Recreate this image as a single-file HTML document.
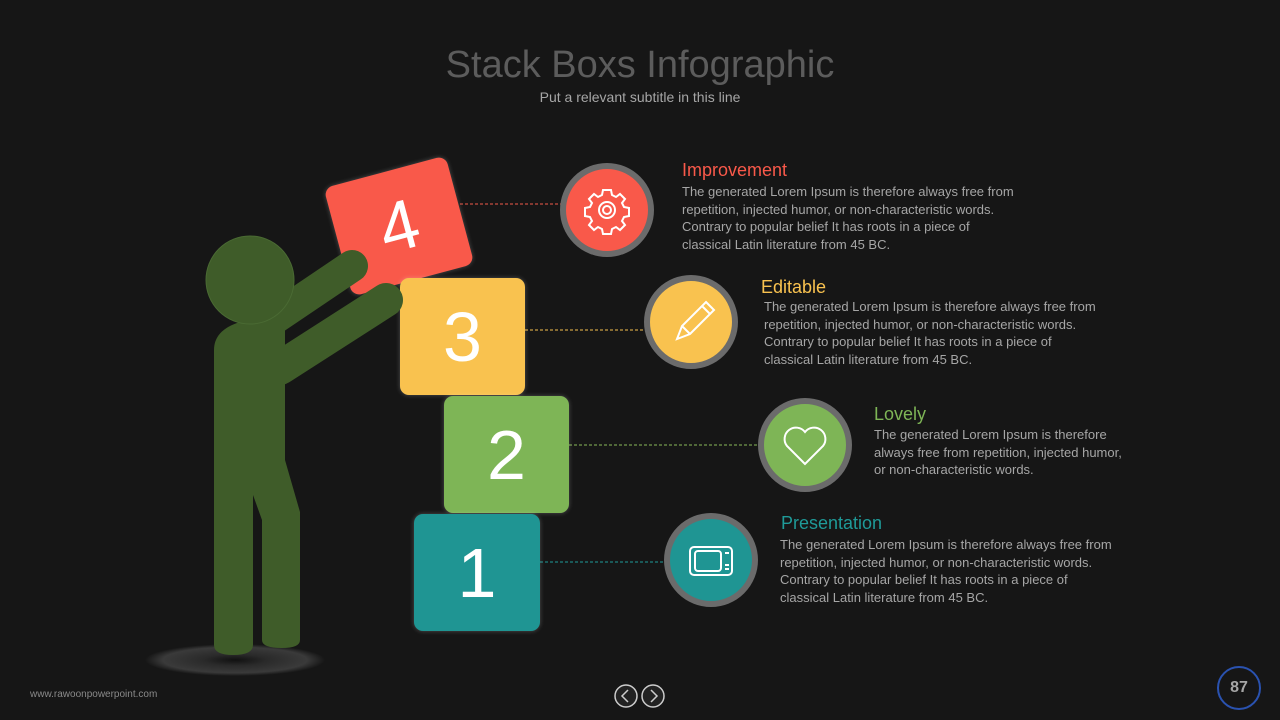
<!DOCTYPE html>
<html><head><style>
body{margin:0;width:1280px;height:720px;background:#161616;overflow:hidden;position:relative;font-family:"Liberation Sans",sans-serif}
.t{position:absolute;color:#a6a6a6;font-size:13px;line-height:17.5px;white-space:nowrap}
.h{position:absolute;font-size:18px}
.box{position:absolute;border-radius:9px;color:#fff;font-size:70px;display:flex;align-items:center;justify-content:center;box-shadow:0 0 5px rgba(255,255,255,.25)}
</style></head><body>
<div style="position:absolute;top:44px;width:1280px;text-align:center;color:#5c5c5c;font-size:38px">Stack Boxs Infographic</div>
<div style="position:absolute;top:89px;width:1280px;text-align:center;color:#a6a6a6;font-size:14px">Put a relevant subtitle in this line</div>

<svg width="1280" height="720" style="position:absolute;left:0;top:0">
<defs><radialGradient id="sh"><stop offset="0" stop-color="#111"/><stop offset=".35" stop-color="#2a2a2a"/><stop offset=".8" stop-color="#3a3a3a"/><stop offset="1" stop-color="#161616"/></radialGradient></defs>
<ellipse cx="235" cy="660" rx="90" ry="16" fill="url(#sh)"/>
<g stroke-dasharray="3,2" stroke-width="1">
<line x1="460" y1="204" x2="565" y2="204" stroke="#f25a4a"/>
<line x1="525" y1="330" x2="650" y2="330" stroke="#f6c04f"/>
<line x1="569" y1="445" x2="765" y2="445" stroke="#8bb95a"/>
<line x1="540" y1="562" x2="668" y2="562" stroke="#1f9a98"/>
</g>
</svg>
<div class="box" style="left:336px;top:170px;width:126px;height:112px;background:#f9594a;transform:rotate(-15deg)">4</div>
<div class="box" style="left:400px;top:278px;width:125px;height:117px;background:#f9c24f">3</div>
<svg width="1280" height="720" style="position:absolute;left:0;top:0">
<g fill="#3f5c29" stroke="#3f5c29" stroke-linecap="round">
<line x1="272" y1="320" x2="352" y2="266" stroke-width="32"/>
<line x1="280" y1="368" x2="386" y2="300" stroke-width="34"/>
<path d="M214 350 Q214 330 240 322 L285 322 L285 460 L300 512 L300 640 Q300 648 282 648 Q262 648 262 640 L262 520 L253 495 L253 645 Q253 655 233 655 Q214 655 214 645 Z" stroke="none"/>
<circle cx="250" cy="280" r="44" stroke="#4a6a33" stroke-width="1"/>
</g>
</svg>
<div class="box" style="left:444px;top:396px;width:125px;height:117px;background:#7eb556">2</div>
<div class="box" style="left:414px;top:514px;width:126px;height:117px;background:#1f9593">1</div>

<svg width="1280" height="720" style="position:absolute;left:0;top:0" fill="none" stroke="#fff" stroke-width="2">
<circle cx="607" cy="210" r="44" fill="#f9594a" stroke="#6b6b6b" stroke-width="6"/>
<circle cx="607" cy="210" r="8"/><circle cx="607" cy="210" r="4"/>
<path d="M603 190h8l1 5 4 2 4-3 5 5-3 4 2 4 5 1v8l-5 1-2 4 3 4-5 5-4-3-4 2-1 5h-8l-1-5-4-2-4 3-5-5 3-4-2-4-5-1v-8l5-1 2-4-3-4 5-5 4 3 4-2z"/>
<circle cx="691" cy="322" r="44" fill="#f9c24f" stroke="#6b6b6b" stroke-width="6"/>
<path d="M706 302l8 8-24 24-13 5 5-13z M702 306l8 8 M682 326l8 8"/>
<circle cx="805" cy="445" r="44" fill="#7eb556" stroke="#6b6b6b" stroke-width="6"/>
<path d="M805 464l-18-18a11 11 0 0 1 18-14a11 11 0 0 1 18 14z"/>
<circle cx="711" cy="560" r="44" fill="#1f9593" stroke="#6b6b6b" stroke-width="6"/>
<rect x="690" y="547" width="42" height="28" rx="4"/><rect x="695" y="551" width="26" height="20" rx="3"/>
<path d="M725 553h4 M725 565h4 M725 569h4"/>
</svg>

<div class="h" style="left:682px;top:160px;color:#f9594a">Improvement</div>
<div class="t" style="left:682px;top:183px">The generated Lorem Ipsum is therefore always free from<br>repetition, injected humor, or non-characteristic words.<br>Contrary to popular belief It has roots in a piece of<br>classical Latin literature from 45 BC.</div>
<div class="h" style="left:761px;top:277px;color:#f9c24f">Editable</div>
<div class="t" style="left:764px;top:298px">The generated Lorem Ipsum is therefore always free from<br>repetition, injected humor, or non-characteristic words.<br>Contrary to popular belief It has roots in a piece of<br>classical Latin literature from 45 BC.</div>
<div class="h" style="left:874px;top:404px;color:#7eb556">Lovely</div>
<div class="t" style="left:874px;top:426px">The generated Lorem Ipsum is therefore<br>always free from repetition, injected humor,<br>or non-characteristic words.</div>
<div class="h" style="left:781px;top:513px;color:#1f9a98">Presentation</div>
<div class="t" style="left:780px;top:536px">The generated Lorem Ipsum is therefore always free from<br>repetition, injected humor, or non-characteristic words.<br>Contrary to popular belief It has roots in a piece of<br>classical Latin literature from 45 BC.</div>

<div style="position:absolute;left:30px;top:689px;color:#8a8a8a;font-size:10px">www.rawoonpowerpoint.com</div>
<svg width="60" height="30" style="position:absolute;left:611px;top:681px" fill="none" stroke="#ccc" stroke-width="1.5">
<circle cx="15" cy="15" r="11" fill="#222"/><path d="M17 9l-6 6 6 6"/>
<circle cx="42" cy="15" r="11" fill="#222"/><path d="M40 9l6 6-6 6"/>
</svg>
<div style="position:absolute;left:1217px;top:666px;width:40px;height:40px;border:2px solid #2a52b0;border-radius:50%;color:#a6a6a6;font-size:16px;font-weight:bold;text-align:center;line-height:40px">87</div>
</body></html>
